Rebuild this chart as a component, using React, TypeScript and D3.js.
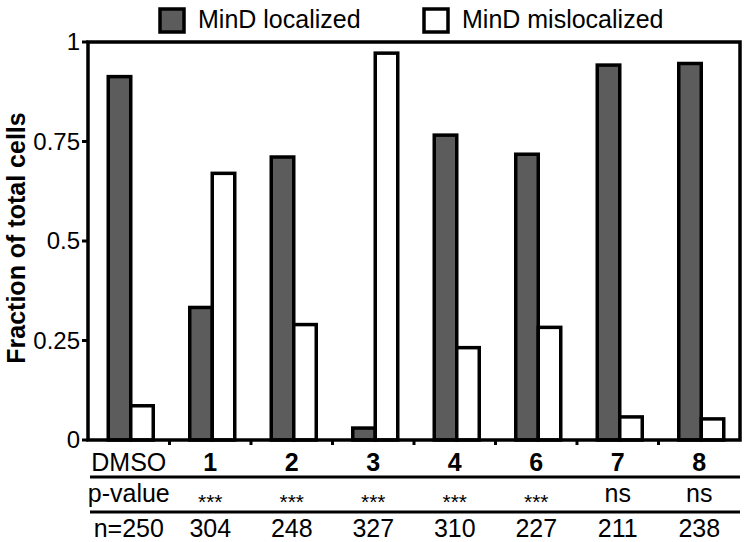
import React from "react";
import * as d3 from "d3";

const categories = ["DMSO", "1", "2", "3", "4", "6", "7", "8"];
const localized = [0.913, 0.333, 0.711, 0.03, 0.766, 0.718, 0.942, 0.946];
const mislocalized = [0.086, 0.67, 0.29, 0.972, 0.232, 0.283, 0.058, 0.053];
const pRow = ["p-value", "***", "***", "***", "***", "***", "ns", "ns"];
const nRow = ["n=250", "304", "248", "327", "310", "227", "211", "238"];
const yTicks = [0, 0.25, 0.5, 0.75, 1];
const keys = ["MinD localized", "MinD mislocalized"];

const width = 750;
const height = 542;
const margin = { top: 42, right: 10, bottom: 102, left: 88 };
const font = "'Liberation Sans', Arial, sans-serif";

const App = () => {
  const innerWidth = width - margin.left - margin.right;
  const innerHeight = height - margin.top - margin.bottom;

  const xScale = d3
    .scaleBand()
    .domain(categories)
    .range([0, innerWidth])
    .padding(0);

  const bw = xScale.bandwidth();
  const subScale = d3
    .scaleBand()
    .domain(keys)
    .range([bw / 2 - 22.5 + 2, bw / 2 + 22.5 + 2]);

  const yScale = d3.scaleLinear().domain([0, 1]).range([innerHeight, 0]);

  const colorScale = d3.scaleOrdinal().domain(keys).range(["#5c5c5c", "#ffffff"]);

  const rows = categories.map((c, i) => ({
    category: c,
    values: [localized[i], mislocalized[i]],
  }));

  const sw = 3.5;

  return (
    <svg
      width={width}
      height={height}
      style={{ position: "absolute", left: 0, top: 0, background: "#fff" }}
      fontFamily={font}
    >
      {
        // Legend
        keys.map((k, i) => {
          const lx = i === 0 ? 160 : 424;
          return (
            <g key={k}>
              <rect
                x={lx}
                y={9}
                width={24}
                height={23}
                fill={colorScale(k) as string}
                stroke="#000"
                strokeWidth={sw}
              />
              <text x={lx + 38} y={28} fontSize={25}>
                {k}
              </text>
            </g>
          );
        })
      }
      <g transform={`translate(${margin.left},${margin.top})`}>
        {
          // Bars
          rows.map((r) => (
            <g key={r.category} transform={`translate(${xScale(r.category)},0)`}>
              {keys.map((k, j) => (
                <rect
                  key={k}
                  x={subScale(k)}
                  y={yScale(r.values[j])}
                  width={subScale.bandwidth()}
                  height={innerHeight - yScale(r.values[j])}
                  fill={colorScale(k) as string}
                  stroke="#000"
                  strokeWidth={sw}
                />
              ))}
            </g>
          ))
        }
        {/* Frame */}
        <rect
          x={0}
          y={0}
          width={innerWidth}
          height={innerHeight}
          fill="none"
          stroke="#000"
          strokeWidth={sw}
        />
        {
          // Y ticks
          yTicks.map((t) => (
            <g key={t} transform={`translate(0,${yScale(t)})`}>
              <line x1={-6} x2={0} stroke="#000" strokeWidth={3} />
              <text x={-8} dy=".35em" textAnchor="end" fontSize={24}>
                {d3.format("~g")(t)}
              </text>
            </g>
          ))
        }
        {
          // X boundary ticks
          categories.slice(1).map((c) => (
            <line
              key={c}
              x1={xScale(c)}
              x2={xScale(c)}
              y1={innerHeight}
              y2={innerHeight + 5}
              stroke="#000"
              strokeWidth={3}
            />
          ))
        }
        {
          // Table rows
          categories.map((c, i) => {
            const cx = (xScale(c) as number) + bw / 2;
            const star = pRow[i] === "***";
            return (
              <g key={c}>
                <text
                  x={cx}
                  y={innerHeight + 31}
                  textAnchor="middle"
                  fontSize={25}
                  fontWeight={i === 0 ? "normal" : "bold"}
                >
                  {c}
                </text>
                <text
                  x={cx}
                  y={innerHeight + (star ? 69 : 62)}
                  textAnchor="middle"
                  fontSize={star ? 21 : 25}
                >
                  {pRow[i]}
                </text>
                <text x={cx} y={innerHeight + 97} textAnchor="middle" fontSize={25}>
                  {nRow[i]}
                </text>
              </g>
            );
          })
        }
        <line x1={2} x2={innerWidth} y1={innerHeight + 37} y2={innerHeight + 37} stroke="#000" strokeWidth={3} />
        <line x1={2} x2={innerWidth} y1={innerHeight + 72} y2={innerHeight + 72} stroke="#000" strokeWidth={3} />
      </g>
      <text
        transform={`translate(25,238) rotate(-90)`}
        fontSize={25}
        fontWeight="bold"
        textAnchor="middle"
      >
        Fraction of total cells
      </text>
    </svg>
  );
};

export default App;
